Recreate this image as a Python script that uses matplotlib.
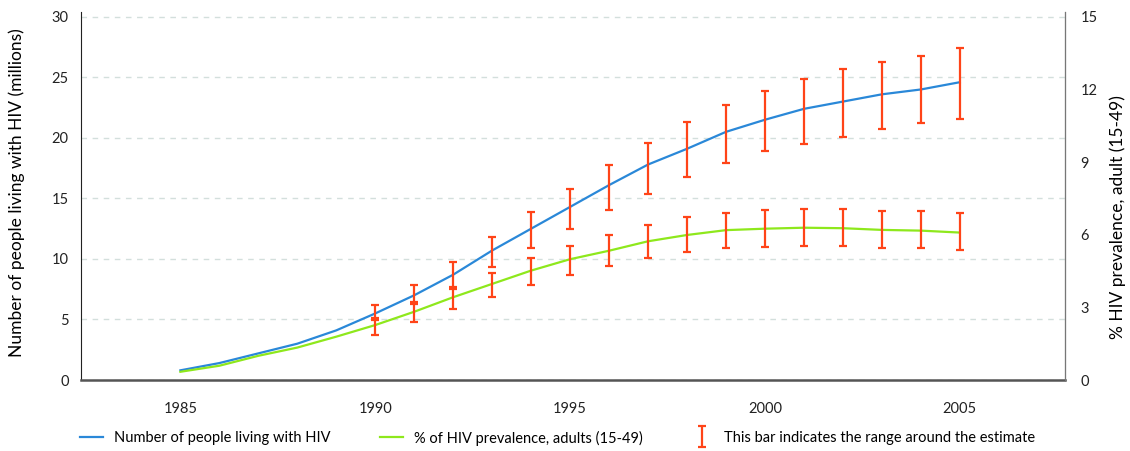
import matplotlib.pyplot as plt
import numpy as np
from matplotlib.legend_handler import HandlerErrorbar

years = np.arange(1985, 2006)
people = [0.8, 1.4, 2.2, 3.0, 4.1, 5.5, 7.0, 8.7, 10.7, 12.5, 14.3, 16.1,
          17.8, 19.1, 20.5, 21.5, 22.4, 23.0, 23.6, 24.0, 24.6]
prevalence = [0.34, 0.59, 1.0, 1.34, 1.79, 2.27, 2.82, 3.42, 3.97, 4.52, 4.99,
              5.34, 5.73, 5.99, 6.19, 6.25, 6.29, 6.27, 6.2, 6.17, 6.09]

range_years = np.arange(1990, 2006)
people_low = [4.96, 6.28, 7.55, 9.3, 10.9, 12.5, 14.05, 15.4, 16.8, 17.9,
              18.9, 19.5, 20.1, 20.7, 21.2, 21.6]
people_high = [6.17, 7.88, 9.78, 11.85, 13.9, 15.8, 17.8, 19.55, 21.3, 22.7,
               23.9, 24.85, 25.65, 26.3, 26.75, 27.4]
prev_low = [1.86, 2.38, 2.95, 3.44, 3.93, 4.33, 4.72, 5.04, 5.3, 5.47, 5.51,
            5.54, 5.52, 5.44, 5.44, 5.37]
prev_high = [2.56, 3.24, 3.86, 4.41, 5.04, 5.54, 6.0, 6.4, 6.74, 6.91, 7.04,
             7.07, 7.07, 6.98, 6.97, 6.9]

labels = ['Number of people living with HIV',
          '% of HIV prevalence, adults (15-49)',
          'This bar indicates the range around the estimate']

blue = '#2a88d8'
green = '#8ee81c'
red = '#ff4418'
grid_c = '#d3dfdc'

plt.rcParams['font.family'] = ['Lato', 'DejaVu Sans']

fig = plt.figure(figsize=(11.3, 4.51), dpi=100)
ax = fig.add_axes([0.0717, 0.1574, 0.8708, 0.8160])
ax2 = ax.twinx()

people_map = dict(zip(years, people))
prev_map = dict(zip(years, prevalence))

l1, = ax.plot(years, people, color=blue, lw=1.6, zorder=2)
l2, = ax2.plot(years, prevalence, color=green, lw=1.6, zorder=2)

pc = np.array([people_map[y] for y in range_years])
ax.errorbar(range_years, pc, yerr=[pc - np.array(people_low), np.array(people_high) - pc],
            fmt='none', ecolor=red, elinewidth=1.6, capsize=2.7, capthick=1.6, zorder=3)
gc = np.array([prev_map[y] for y in range_years])
eb = ax2.errorbar(range_years, gc, yerr=[gc - np.array(prev_low), np.array(prev_high) - gc],
                  fmt='none', ecolor=red, elinewidth=1.6, capsize=2.7, capthick=1.6, zorder=3)

ax.set_xlim(1982.45, 2007.7)
ax.set_ylim(0, 30.4)
ax2.set_ylim(0, 15.2)
ax.set_xticks([1985, 1990, 1995, 2000, 2005])
ax.set_yticks(np.arange(0, 31, 5))
ax2.set_yticks(np.arange(0, 16, 3))
ax.grid(axis='y', color=grid_c, ls=(0, (4, 4)), lw=1)
ax.set_axisbelow(True)

for a in (ax, ax2):
    a.spines['top'].set_visible(False)
    a.tick_params(length=0, labelsize=10.5, colors='#222222')
ax.spines['left'].set_color('#222222')
ax.spines['bottom'].set_color('#555555')
ax.spines['bottom'].set_linewidth(1.8)
ax2.spines['left'].set_visible(False)
ax2.spines['bottom'].set_visible(False)
ax2.spines['right'].set_color('#777777')
ax.tick_params(axis='y', pad=9)
ax.tick_params(axis='x', pad=16)
ax2.tick_params(axis='y', pad=11)

ax.set_ylabel('Number of people living with HIV (millions)', fontsize=12.5)
ax.yaxis.set_label_coords(-0.057, 0.508)
ax2.set_ylabel('% HIV prevalence, adult (15-49)', fontsize=12.5)
ax2.yaxis.set_label_coords(1.0447, 0.443)

leg_x = [80, 380, 690]
handles = [l1, l2, eb]
for i in range(3):
    fig.legend([handles[i]], [labels[i]], loc='center left',
               bbox_to_anchor=(leg_x[i] / 1130, 1 - 438 / 451),
               frameon=False, fontsize=10.5, borderpad=0, borderaxespad=0,
               handlelength=1.6, handletextpad=0.75,
               handler_map={type(eb): HandlerErrorbar(yerr_size=0.72)})

fig.savefig('out.png', dpi=100)
